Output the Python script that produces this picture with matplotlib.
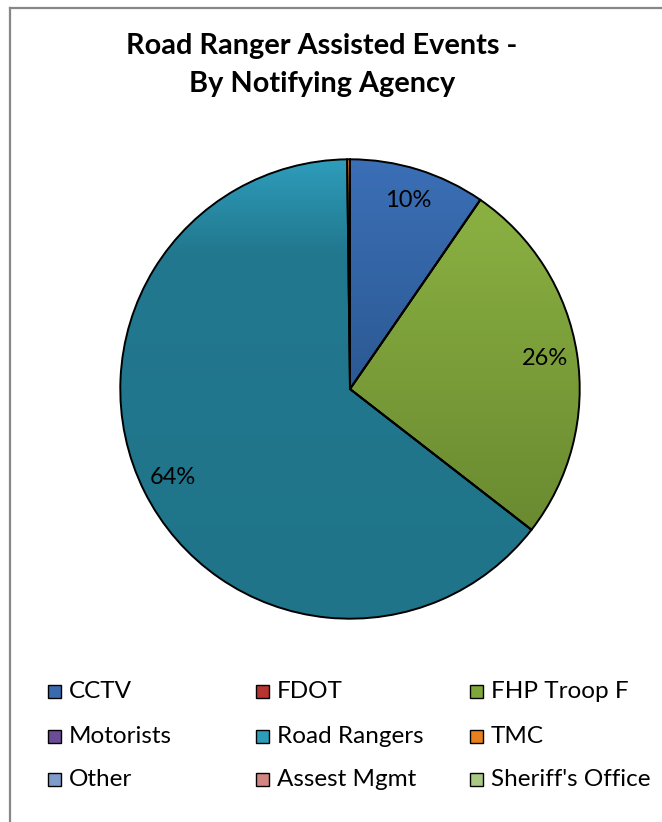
import numpy as np
import matplotlib
matplotlib.use('Agg')
import matplotlib.pyplot as plt
from matplotlib.colors import LinearSegmentedColormap
from matplotlib.lines import Line2D
from matplotlib.patches import Rectangle

plt.rcParams['font.family'] = ['Lato', 'DejaVu Sans']

# data
agencies = ['CCTV', 'FDOT', 'FHP Troop F', 'Motorists', 'Road Rangers', 'TMC',
            'Other', 'Assest Mgmt', "Sheriff's Office"]
shares = [9.6, 0.0, 25.9, 0.0, 64.3, 0.2, 0.0, 0.0, 0.0]

# legend colours and pie gradient stops (top -> bottom)
legend_colors = ['#3A6BB0', '#B83431', '#7FA63A', '#6B4C96', '#2E9BB8', '#E8801E',
                 '#7F9DCB', '#D38581', '#A9C884']
grad_stops = [
    [(0.0, '#3B6FB6'), (1.0, '#2B5993')],
    [(0.0, '#C0504D'), (1.0, '#9A3A38')],
    [(0.0, '#8BB142'), (1.0, '#6A8A30')],
    [(0.0, '#8064A2'), (1.0, '#5F4A7C')],
    [(0.0, '#2E9DBB'), (0.2, '#22788F'), (1.0, '#1F7489')],
    [(0.0, '#F08A2A'), (1.0, '#D87518')],
    [(0.0, '#95B3D7'), (1.0, '#7895BA')],
    [(0.0, '#D99694'), (1.0, '#B87775')],
    [(0.0, '#C3D69B'), (1.0, '#A3B77D')],
]

fig = plt.figure(figsize=(6.62, 8.22), dpi=100)

# chart border (only top and left visible in the crop)
fig.add_artist(Line2D([9.5 / 662, 1.0], [1 - 8.5 / 822] * 2, color='#878787', lw=1.6))
fig.add_artist(Line2D([9.5 / 662] * 2, [0.0, 1 - 8.5 / 822], color='#878787', lw=1.6))

fig.text(0.486, 1 - 33 / 822, 'Road Ranger Assisted Events -\nBy Notifying Agency',
         ha='center', va='top', fontsize=20.8, fontweight='bold', linespacing=1.58)

ax = fig.add_axes([118 / 662, 1 - 621 / 822, 464 / 662, 464 / 822])

wedges, texts, autotexts = ax.pie(
    shares, startangle=90, counterclock=False, radius=1,
    autopct=lambda p: f'{p:.0f}%' if p >= 1 else '', pctdistance=0.86,
    wedgeprops=dict(edgecolor='black', linewidth=1.4),
    textprops=dict(fontsize=17, color='black'))

# gradient fill per wedge
for w, stops, v in zip(wedges, grad_stops, shares):
    w.set_facecolor('none')
    w.set_zorder(3)
    if v <= 0:
        continue
    bb = w.get_path().get_extents()
    cmap = LinearSegmentedColormap.from_list('g', stops)
    grad = np.linspace(0, 1, 256).reshape(-1, 1)
    im = ax.imshow(grad, cmap=cmap, aspect='auto', origin='upper',
                   extent=[bb.x0, bb.x1, bb.y0, bb.y1], zorder=2, interpolation='bilinear')
    im.set_clip_path(w)

for t in autotexts:
    t.set_zorder(5)

ax.set_xlim(-1.01, 1.01)
ax.set_ylim(-1.01, 1.01)
ax.set_aspect('equal')
ax.axis('off')

# legend, three columns, row-major
col_x = [48, 256, 470]
row_y = [691, 736, 779]
for i, (name, col) in enumerate(zip(agencies, legend_colors)):
    cx = col_x[i % 3]
    cy = row_y[i // 3]
    fig.add_artist(Rectangle((cx / 662, 1 - (cy + 7) / 822), 13 / 662, 13 / 822,
                             facecolor=col, edgecolor='black', lw=1.0,
                             transform=fig.transFigure))
    fig.text((cx + 21) / 662, 1 - cy / 822, name, ha='left', va='center', fontsize=17.5)

plt.savefig('out.png', dpi=100)
